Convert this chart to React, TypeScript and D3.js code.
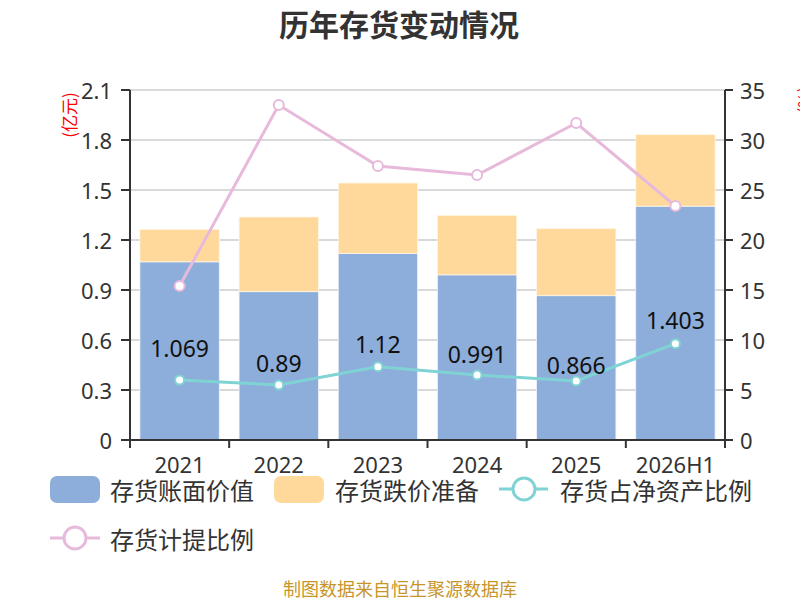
import React from "react";
import * as d3 from "d3";

const categories = ["2021", "2022", "2023", "2024", "2025", "2026H1"];
const bookValue = [1.069, 0.89, 1.12, 0.991, 0.866, 1.403];
const impairment = [0.195, 0.448, 0.422, 0.357, 0.402, 0.429];
const netAssetRatio = [6.0, 5.5, 7.33, 6.5, 5.9, 9.63];
const provisionRatio = [15.4, 33.5, 27.4, 26.5, 31.7, 23.4];
const leftTicks = [0, 0.3, 0.6, 0.9, 1.2, 1.5, 1.8, 2.1];
const rightTicks = [0, 5, 10, 15, 20, 25, 30, 35];

const W = 800;
const H = 600;
const M = { left: 130, right: 725, top: 90, bottom: 440 };
const FONT = "'Noto Sans CJK SC', 'Noto Sans', sans-serif";
const NUMFONT = "'Noto Sans', 'Noto Sans CJK SC', sans-serif";
const BLUE = "#8DADDA";
const ORANGE = "#FFD99B";
const TEAL = "#80D3D4";
const PINK = "#E7BADC";

export default function App() {
  const x = d3.scaleBand<string>().domain(categories).range([M.left, M.right]).paddingInner(0.2).paddingOuter(0.1);
  const yL = d3.scaleLinear().domain([0, 2.1]).range([M.bottom, M.top]);
  const yR = d3.scaleLinear().domain([0, 35]).range([M.bottom, M.top]);
  const step = (M.right - M.left) / categories.length;
  const cx = (c: string) => (x(c) as number) + x.bandwidth() / 2;

  const pinkPath = d3.line<number>().x((_, i) => cx(categories[i])).y((v) => yR(v))(provisionRatio) as string;
  const tealPath = d3.line<number>().x((_, i) => cx(categories[i])).y((v) => yR(v))(netAssetRatio) as string;

  return (
    <svg width={W} height={H} style={{ position: "absolute", left: 0, top: 0, background: "#fff" }} fontFamily={FONT}>
      <rect width={W} height={H} fill="#fff" />
      <text x={399} y={23} textAnchor="middle" dominantBaseline="central" fontSize={30} fontWeight="bold" fill="#333">
        历年存货变动情况
      </text>

      {leftTicks.map((t) => (
        <line key={"g" + t} x1={M.left} x2={M.right} y1={yL(t)} y2={yL(t)} stroke="#cccccc" strokeWidth={1.5} />
      ))}

      {categories.map((c, i) => (
        <g key={"b" + c}>
          <rect x={x(c)} width={x.bandwidth()} y={yL(bookValue[i])} height={yL(0) - yL(bookValue[i])} fill={BLUE} stroke="#eef2fa" strokeWidth={0.8} />
          <rect x={x(c)} width={x.bandwidth()} y={yL(bookValue[i] + impairment[i])} height={yL(bookValue[i]) - yL(bookValue[i] + impairment[i])} fill={ORANGE} stroke="#fff6e6" strokeWidth={0.8} />
        </g>
      ))}

      <path d={tealPath} fill="none" stroke={TEAL} strokeWidth={3} />
      {netAssetRatio.map((v, i) => (
        <circle key={"t" + i} cx={cx(categories[i])} cy={yR(v)} r={4.5} fill="#fff" stroke={TEAL} strokeWidth={2} />
      ))}
      <path d={pinkPath} fill="none" stroke={PINK} strokeWidth={3} />
      {provisionRatio.map((v, i) => (
        <circle key={"p" + i} cx={cx(categories[i])} cy={yR(v)} r={5} fill="#fff" stroke={PINK} strokeWidth={2} />
      ))}

      {bookValue.map((v, i) => (
        <text key={"l" + i} x={cx(categories[i])} y={(yL(v) + yL(0)) / 2 - 3} textAnchor="middle" dominantBaseline="central" fontSize={23} fontFamily={NUMFONT} fill="#111">
          {String(v)}
        </text>
      ))}

      {/* axes */}
      <line x1={M.left} x2={M.left} y1={M.top} y2={M.bottom} stroke="#333" strokeWidth={2} />
      <line x1={M.right} x2={M.right} y1={M.top} y2={M.bottom} stroke="#333" strokeWidth={2} />
      <line x1={M.left} x2={M.right} y1={M.bottom} y2={M.bottom} stroke="#333" strokeWidth={2} />
      {leftTicks.map((t) => (
        <g key={"lt" + t}>
          <line x1={M.left - 9} x2={M.left} y1={yL(t)} y2={yL(t)} stroke="#333" strokeWidth={2} />
          <text x={M.left - 18} y={yL(t)} textAnchor="end" dominantBaseline="central" fontSize={22} fontFamily={NUMFONT} fill="#333">
            {t === 0 ? "0" : t.toFixed(1)}
          </text>
        </g>
      ))}
      {rightTicks.map((t) => (
        <g key={"rt" + t}>
          <line x1={M.right} x2={M.right + 8} y1={yR(t)} y2={yR(t)} stroke="#333" strokeWidth={2} />
          <text x={M.right + 15} y={yR(t)} textAnchor="start" dominantBaseline="central" fontSize={22} fontFamily={NUMFONT} fill="#333">
            {String(t)}
          </text>
        </g>
      ))}
      {d3.range(categories.length + 1).map((i) => (
        <line key={"xt" + i} x1={M.left + i * step} x2={M.left + i * step} y1={M.bottom} y2={M.bottom + 8} stroke="#333" strokeWidth={2} />
      ))}
      {categories.map((c) => (
        <text key={"xl" + c} x={cx(c)} y={464} textAnchor="middle" dominantBaseline="central" fontSize={22} fontFamily={NUMFONT} fill="#333">
          {c}
        </text>
      ))}

      <text transform="translate(68,115) rotate(-90)" textAnchor="middle" dominantBaseline="central" fontSize={17} fill="#ff0000">
        (亿元)
      </text>
      <text transform="translate(803,100) rotate(-90)" textAnchor="middle" dominantBaseline="central" fontSize={17} fill="#ff0000">
        (%)
      </text>

      {/* legend */}
      <rect x={50} y={476} width={50} height={27} rx={7} fill={BLUE} />
      <text x={110} y={489} dominantBaseline="central" fontSize={24} fill="#333">存货账面价值</text>
      <rect x={274} y={476} width={50} height={27} rx={7} fill={ORANGE} />
      <text x={335} y={489} dominantBaseline="central" fontSize={24} fill="#333">存货跌价准备</text>
      <line x1={499} x2={548} y1={489} y2={489} stroke={TEAL} strokeWidth={3} />
      <circle cx={524} cy={489} r={11} fill="#fff" stroke={TEAL} strokeWidth={3} />
      <text x={560} y={489} dominantBaseline="central" fontSize={24} fill="#333">存货占净资产比例</text>
      <line x1={50} x2={100} y1={538} y2={538} stroke={PINK} strokeWidth={3} />
      <circle cx={75} cy={538} r={11} fill="#fff" stroke={PINK} strokeWidth={3} />
      <text x={110} y={538} dominantBaseline="central" fontSize={24} fill="#333">存货计提比例</text>

      <text x={400} y={588} textAnchor="middle" dominantBaseline="central" fontSize={18} fill="#C8952B">
        制图数据来自恒生聚源数据库
      </text>
    </svg>
  );
}
